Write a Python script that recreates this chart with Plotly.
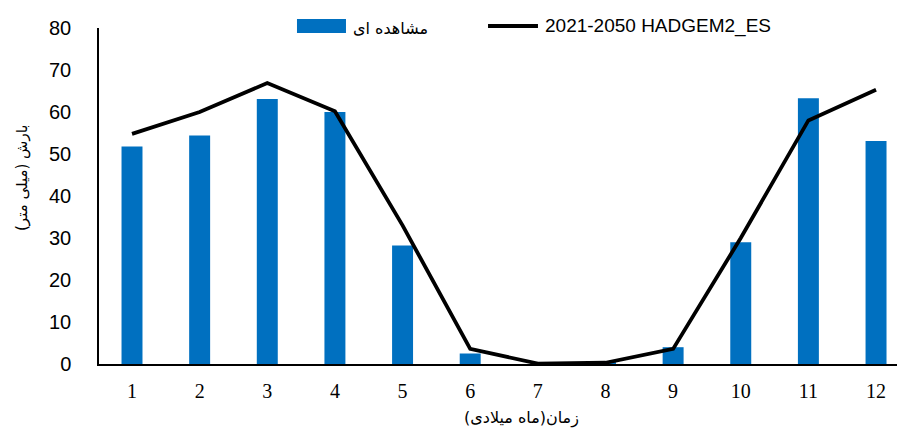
import plotly.graph_objects as go

months = [1, 2, 3, 4, 5, 6, 7, 8, 9, 10, 11, 12]
month_labels = [str(m) for m in months]
observed = [51.8, 54.4, 63.1, 60.0, 28.2, 2.5, 0.0, 0.3, 4.0, 29.0, 63.3, 53.1]
hadgem = [54.8, 60.0, 66.9, 60.2, 33.0, 3.6, 0.1, 0.3, 3.6, 30.0, 58.0, 65.3]
yticks = [0, 10, 20, 30, 40, 50, 60, 70, 80]

name_obs = "مشاهده ای"
name_model = "2021-2050 HADGEM2_ES"
x_title = "زمان(ماه میلادی)"
y_title = "بارش (میلی متر)"

BAR_COLOR = "#0070C0"

fig = go.Figure()
fig.add_trace(go.Bar(x=months, y=observed, name=name_obs, width=0.31,
                     marker=dict(color=BAR_COLOR, line=dict(width=0))))
fig.add_trace(go.Scatter(x=months, y=hadgem, name=name_model, mode="lines",
                         line=dict(color="black", width=3.8)))

# custom legend (paper coordinates)
fig.add_shape(type="rect", xref="paper", yref="paper",
              x0=0.2481, x1=0.3095, y0=0.985, y1=1.0268,
              fillcolor=BAR_COLOR, line=dict(width=0))
fig.add_shape(type="line", xref="paper", yref="paper",
              x0=0.4875, x1=0.5501, y0=1.006, y1=1.006,
              line=dict(color="black", width=3.8))
fig.add_annotation(text=name_obs, xref="paper", yref="paper", x=0.3158, y=1.0,
                   xanchor="left", yanchor="middle", showarrow=False,
                   font=dict(family="DejaVu Sans", size=16, color="black"))
fig.add_annotation(text=name_model, xref="paper", yref="paper", x=0.5564, y=1.006,
                   xanchor="left", yanchor="middle", showarrow=False,
                   font=dict(family="Liberation Sans", size=19, color="black"))

# axis titles
fig.add_annotation(text=x_title, xref="paper", yref="paper", x=0.53, y=-0.16,
                   xanchor="center", yanchor="middle", showarrow=False,
                   font=dict(family="DejaVu Sans", size=16, color="black"))
fig.add_annotation(text=y_title, xref="paper", yref="paper", x=-0.0965, y=0.5536,
                   xanchor="center", yanchor="middle", showarrow=False, textangle=-90,
                   font=dict(family="DejaVu Sans", size=15, color="black"))

fig.update_layout(
    width=897, height=432,
    margin=dict(l=99, r=0, t=28, b=68),
    paper_bgcolor="white", plot_bgcolor="white",
    showlegend=False,
    xaxis=dict(range=[0.512, 12.31], tickmode="array", tickvals=months, ticktext=month_labels,
               showgrid=False, zeroline=False, showline=True, linecolor="black", linewidth=1.5,
               ticks="", ticklabelstandoff=8,
               tickfont=dict(family="Liberation Serif", size=20, color="black")),
    yaxis=dict(range=[0, 80], tickmode="array", tickvals=yticks,
               showgrid=False, zeroline=False, showline=True, linecolor="black", linewidth=1.5,
               ticks="", ticklabelstandoff=22,
               tickfont=dict(family="Liberation Sans", size=20, color="black")),
)

fig.write_html("out.html")
